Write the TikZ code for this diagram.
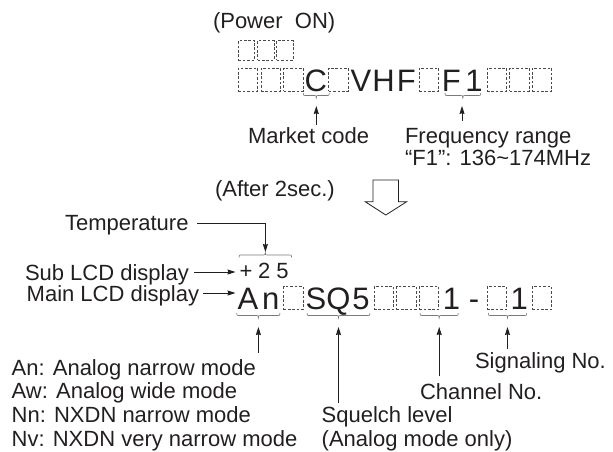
\documentclass[tikz,border=0pt]{standalone}
\usepackage{fontspec}
\setmainfont{Liberation Sans}
\usetikzlibrary{arrows.meta}
\definecolor{ink}{HTML}{231F20}
\definecolor{boxgray}{HTML}{4A4A4A}
\definecolor{bracegray}{HTML}{7A7A7A}
% brace: x1, x2, y of the ends, direction of the tip (1 = down, -1 = up)
\newcommand\mybrace[4]{%
  \pgfmathsetmacro\bm{(#1+#2)/2}%
  \pgfmathsetmacro\ya{#3+2.5*#4}%
  \pgfmathsetmacro\yb{#3+5*#4}%
  \draw[brc] (#1,#3) .. controls (#1,\ya) .. (#1+3.5,\ya) -- (\bm-3.5,\ya)
    .. controls (\bm,\ya) .. (\bm,\yb) .. controls (\bm,\ya) .. (\bm+3.5,\ya)
    -- (#2-3.5,\ya) .. controls (#2,\ya) .. (#2,#3);}
\begin{document}
\begin{tikzpicture}[x=1pt,y=-1pt,
  lbl/.style={inner sep=0pt, outer sep=0pt, anchor=base west, font=\fontsize{22}{26}\selectfont, text=ink},
  dig/.style={inner sep=0pt, outer sep=0pt, anchor=base, font=\fontsize{31}{31}\selectfont, text=ink},
  sdig/.style={inner sep=0pt, outer sep=0pt, anchor=base, font=\fontsize{22}{22}\selectfont, text=ink},
  cellbox/.style={draw=boxgray, dash pattern=on 2.6pt off 1.8pt, line width=0.7pt,
     minimum width=19.5pt, minimum height=23pt, inner sep=0pt, outer sep=0pt},
  prebox/.style={cellbox, minimum width=16.5pt, minimum height=19.3pt},
  arr/.style={draw=ink, line width=0.8pt, -{Stealth[length=8pt,width=5pt,inset=0.8pt]}},
  brc/.style={draw=bracegray, line width=0.6pt},
  hollow/.style={draw=ink, line width=0.8pt, fill=white}
]
\useasboundingbox (0,0) rectangle (613,451);

% ---------- labels ----------
\node[lbl] (power) at (213,28.3) {(Power\ \ ON)};
\node[lbl] (market) at (248,143) {Market code};
\node[lbl] (freq) at (405,143) {Frequency range};
\node[lbl] (frange) at (405,165) {“F1”: 136\textasciitilde 174MHz};
\node[lbl] (after) at (215,196.7) {(After 2sec.)};
\node[lbl] (temp) at (65,230) {Temperature};
\node[lbl] (sub) at (25,280) {Sub LCD display};
\node[lbl] (main) at (26.7,301) {Main LCD display};
\node[lbl] (an) at (11.7,375) {An: Analog narrow mode};
\node[lbl] (aw) at (11.7,398.7) {Aw: Analog wide mode};
\node[lbl] (nn) at (11.7,422.5) {Nn: NXDN narrow mode};
\node[lbl] (nv) at (11.7,446) {Nv: NXDN very narrow mode};
\node[lbl] (sig) at (475,368.3) {Signaling No.};
\node[lbl] (chan) at (420,399) {Channel No.};
\node[lbl] (sq) at (321.7,422.5) {Squelch level};
\node[lbl] (sqn) at (321.7,446) {(Analog mode only)};

% ---------- power-on display ----------
\foreach \k in {0,1,2}
  \node[prebox] (pre\k) at ({246.55+19.2*\k},50.3) {};
\foreach \k in {0,1,2,4,8,11,12,13}
  \node[cellbox] (top\k) at ({248.05+22.6*\k},79.5) {};
\foreach \k/\c in {3/C,5/V,6/H,7/F,9/F,10/1}
  \node[dig] (top\k) at ({248.05+22.6*\k},91.5) {\c};

% ---------- after 2 sec display ----------
\node[sdig] (plus) at (246,278.3) {+};
\node[sdig] (two) at (264.2,278.3) {2};
\node[sdig] (five) at (282.5,278.3) {5};
\foreach \k in {2,6,7,8,11,13}
  \node[cellbox] (mn\k) at ({248.05+22.6*\k},298) {};
\foreach \k/\c in {0/A,1/n,3/S,4/Q,5/5,9/1,10/-,12/1}
  \node[dig] (mn\k) at ({248.05+22.6*\k},309) {\c};

% ---------- braces ----------
\mybrace{303.3}{329.3}{93}{1}
\mybrace{445}{480.7}{93}{1}
\mybrace{239}{291.7}{257.5}{-1}
\mybrace{236.7}{280}{313}{1}
\mybrace{307}{370}{313}{1}
\mybrace{420}{458.3}{313}{1}
\mybrace{488.3}{526.7}{313}{1}

% ---------- arrow end points ----------
\coordinate (mcT) at (316.3,124.5);  \coordinate (mcH) at (316.3,106);
\coordinate (frT) at (462,121);      \coordinate (frH) at (462,106);
\coordinate (tpT) at (197,223.3);    \coordinate (tpH) at (265.4,252);
\coordinate (sbT) at (194,272);      \coordinate (sbH) at (235.5,272);
\coordinate (mlT) at (203,293);      \coordinate (mlH) at (235.5,293);
\coordinate (anT) at (258.4,353);    \coordinate (anH) at (258.4,327);
\coordinate (sqT) at (338.5,403);    \coordinate (sqH) at (338.5,327);
\coordinate (chT) at (439.2,376);    \coordinate (chH) at (439.2,327);
\coordinate (sgT) at (507.5,349);    \coordinate (sgH) at (507.5,327);

\draw[arr] (mcT) -- (mcH);
\draw[arr] (frT) -- (frH);
\draw[arr] (tpT) -| (tpH);
\draw[arr] (sbT) -- (sbH);
\draw[arr] (mlT) -- (mlH);
\draw[arr] (anT) -- (anH);
\draw[arr] (sqT) -- (sqH);
\draw[arr] (chT) -- (chH);
\draw[arr] (sgT) -- (sgH);

% ---------- hollow down arrow ----------
\draw[hollow] (373,180) -- (398.5,180) -- (398.5,201.7) -- (406.7,201.7)
  -- (385.8,215) -- (365.2,201.7) -- (373,201.7) -- cycle;
\end{tikzpicture}
\end{document}
